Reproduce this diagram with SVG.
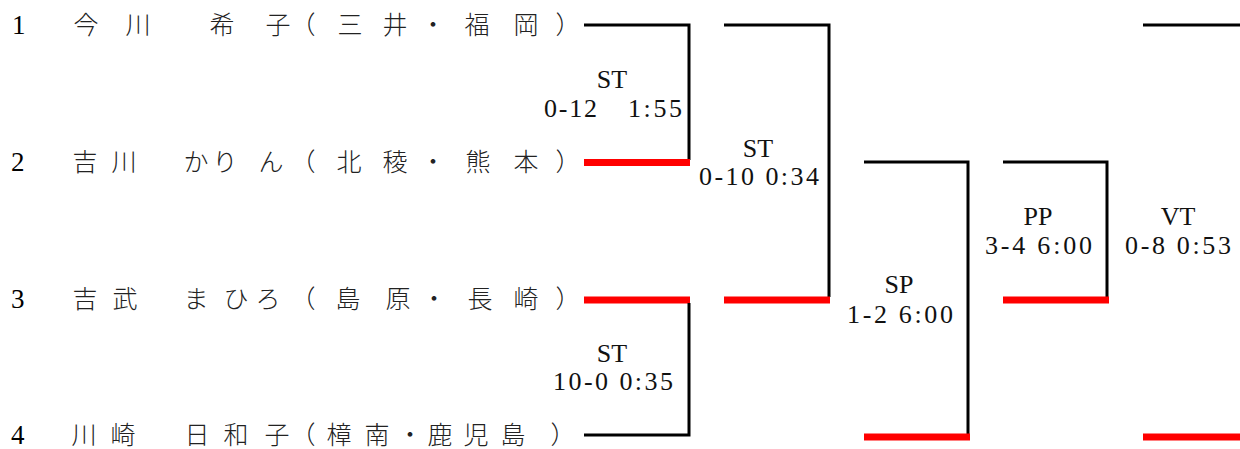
<svg xmlns="http://www.w3.org/2000/svg" width="1240" height="449" viewBox="0 0 1240 449">
<style>
.num{font-family:"Liberation Serif","DejaVu Serif",serif;font-size:27px;fill:#000}
.jp{font-family:"Noto Sans CJK JP","Noto Sans CJK SC",sans-serif;font-size:25px;fill:#222;text-anchor:middle;font-weight:300}
.lb{font-family:"Liberation Serif","DejaVu Serif",serif;font-size:26px;fill:#111}
.mid{text-anchor:middle}
.blk{stroke:#000;stroke-width:3;fill:none}
.red{stroke:#ff0000;stroke-width:7;fill:none}
</style>
<rect width="1240" height="449" fill="#fff"/>
<g id="connectors">
  <path class="blk" d="M584,25 H689 V160"/>
  <path class="red" d="M584,162.5 H690"/>
  <path class="blk" d="M724,25 H829 V297"/>
  <path class="red" d="M724,300 H830"/>
  <path class="red" d="M584,300 H690"/>
  <path class="blk" d="M689,303 V435 H584"/>
  <path class="blk" d="M864,162 H968 V434"/>
  <path class="red" d="M864,437 H970"/>
  <path class="blk" d="M1003,162 H1107 V297"/>
  <path class="red" d="M1003,300 H1109"/>
  <path class="blk" d="M1143,25 H1240"/>
  <path class="red" d="M1143,437 H1240"/>
</g>
<g id="player1">
  <text class="num" x="12" y="34">1</text>
  <text class="jp" x="86 138 222 278 303 350 395 433 477 526 568" y="34">今川希子（三井・福岡）</text>
</g>
<g id="player2">
  <text class="num" x="11" y="171">2</text>
  <text class="jp" x="85 124 196 225 271 303 349 395 433 478 526 568" y="171">吉川かりん（北稜・熊本）</text>
</g>
<g id="player3">
  <text class="num" x="11" y="308">3</text>
  <text class="jp" x="85 125 196 236 268 303 348 398 434 480 526 568" y="308">吉武まひろ（島原・長崎）</text>
</g>
<g id="player4">
  <text class="num" x="11" y="444">4</text>
  <text class="jp" x="84 123 197 236 277 303 339 377 410 440 476 513 563" y="444">川崎日和子（樟南・鹿児島）</text>
</g>
<g id="match1">
  <text class="lb mid" x="612" y="88">ST</text>
  <text class="lb" x="544" y="117" textLength="53" lengthAdjust="spacing">0-12</text>
  <text class="lb" x="628" y="117" textLength="54" lengthAdjust="spacing">1:55</text>
</g>
<g id="match2">
  <text class="lb mid" x="758" y="157">ST</text>
  <text class="lb" x="699" y="185" textLength="120" lengthAdjust="spacing" xml:space="preserve">0-10 0:34</text>
</g>
<g id="match3">
  <text class="lb mid" x="612" y="362">ST</text>
  <text class="lb" x="553" y="390" textLength="120" lengthAdjust="spacing" xml:space="preserve">10-0 0:35</text>
</g>
<g id="match-sp">
  <text class="lb mid" x="899" y="293">SP</text>
  <text class="lb" x="847" y="323" textLength="106" lengthAdjust="spacing" xml:space="preserve">1-2 6:00</text>
</g>
<g id="match-pp">
  <text class="lb mid" x="1038" y="225">PP</text>
  <text class="lb" x="985" y="254" textLength="107" lengthAdjust="spacing" xml:space="preserve">3-4 6:00</text>
</g>
<g id="match-vt">
  <text class="lb mid" x="1178" y="225">VT</text>
  <text class="lb" x="1125" y="254" textLength="106" lengthAdjust="spacing" xml:space="preserve">0-8 0:53</text>
</g>
</svg>
